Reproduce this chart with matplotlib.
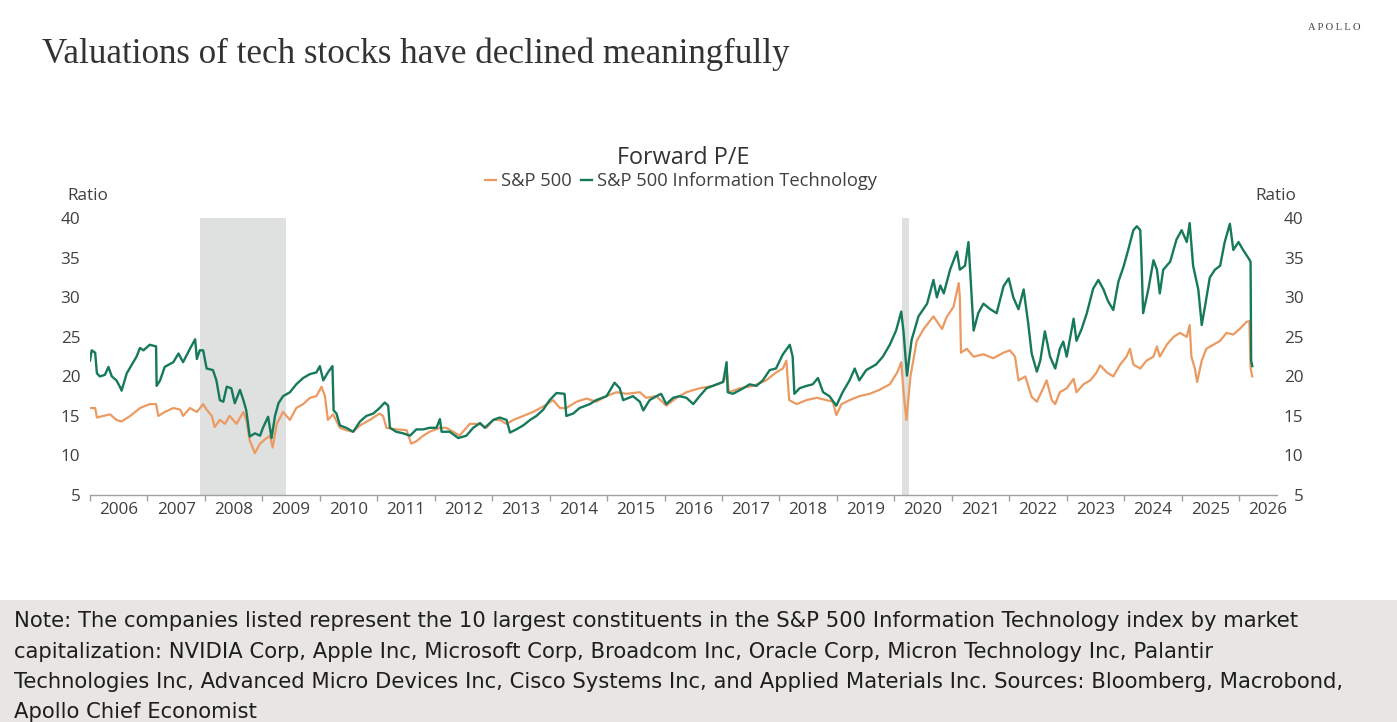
import matplotlib
matplotlib.use("Agg")
import matplotlib.pyplot as plt
from matplotlib.patches import Rectangle

# ---------------- data (decimal years, forward P/E) ----------------
it_years = [2006.00, 2006.03, 2006.09, 2006.12, 2006.17, 2006.26, 2006.32, 2006.38, 2006.46, 2006.52,
            2006.55, 2006.64, 2006.81, 2006.87, 2006.93, 2007.04, 2007.15, 2007.16, 2007.22, 2007.30,
            2007.45, 2007.54, 2007.62, 2007.74, 2007.83, 2007.86, 2007.91, 2007.97, 2008.03, 2008.14,
            2008.20, 2008.26, 2008.32, 2008.38, 2008.46, 2008.52, 2008.61, 2008.67, 2008.72, 2008.78,
            2008.87, 2008.96, 2009.01, 2009.10, 2009.16, 2009.22, 2009.28, 2009.36, 2009.48, 2009.59,
            2009.71, 2009.83, 2009.94, 2010.00, 2010.06, 2010.14, 2010.22, 2010.24, 2010.29, 2010.35,
            2010.46, 2010.58, 2010.70, 2010.81, 2010.93, 2011.04, 2011.13, 2011.19, 2011.22, 2011.33,
            2011.45, 2011.57, 2011.68, 2011.80, 2011.91, 2012.03, 2012.09, 2012.12, 2012.26, 2012.41,
            2012.55, 2012.67, 2012.79, 2012.87, 2013.02, 2013.13, 2013.25, 2013.31, 2013.42, 2013.54,
            2013.66, 2013.77, 2013.89, 2014.00, 2014.12, 2014.26, 2014.29, 2014.41, 2014.52, 2014.70,
            2014.81, 2014.99, 2015.13, 2015.22, 2015.28, 2015.45, 2015.57, 2015.63, 2015.74, 2015.86,
            2015.94, 2016.03, 2016.15, 2016.26, 2016.38, 2016.50, 2016.61, 2016.73, 2016.84, 2017.02,
            2017.08, 2017.10, 2017.19, 2017.37, 2017.48, 2017.60, 2017.71, 2017.83, 2017.94, 2018.06,
            2018.18, 2018.23, 2018.26, 2018.35, 2018.47, 2018.58, 2018.67, 2018.76, 2018.87, 2018.99,
            2019.10, 2019.22, 2019.31, 2019.39, 2019.51, 2019.68, 2019.80, 2019.92, 2020.03, 2020.12,
            2020.16, 2020.22, 2020.30, 2020.42, 2020.57, 2020.68, 2020.74, 2020.80, 2020.86, 2020.97,
            2021.09, 2021.14, 2021.23, 2021.29, 2021.33, 2021.38, 2021.46, 2021.55, 2021.67, 2021.78,
            2021.90, 2021.99, 2022.07, 2022.16, 2022.25, 2022.33, 2022.39, 2022.48, 2022.54, 2022.62,
            2022.71, 2022.80, 2022.88, 2022.94, 2023.00, 2023.12, 2023.17, 2023.26, 2023.35, 2023.46,
            2023.55, 2023.64, 2023.72, 2023.81, 2023.90, 2023.99, 2024.07, 2024.16, 2024.22, 2024.28,
            2024.30, 2024.33, 2024.42, 2024.51, 2024.57, 2024.62, 2024.68, 2024.80, 2024.91, 2025.00,
            2025.09, 2025.14, 2025.20, 2025.29, 2025.35, 2025.41, 2025.49, 2025.58, 2025.67, 2025.75,
            2025.84, 2025.90, 2025.99, 2026.07, 2026.16, 2026.20, 2026.21, 2026.23]
it_pe = [22.0, 23.3, 23.0, 20.4, 20.0, 20.2, 21.2, 20.0, 19.5, 18.7,
         18.2, 20.4, 22.5, 23.6, 23.3, 24.0, 23.8, 18.8, 19.5, 21.2,
         21.8, 22.9, 21.8, 23.5, 24.7, 22.2, 23.3, 23.3, 21.0, 20.8,
         19.5, 17.0, 16.8, 18.7, 18.5, 16.6, 18.3, 17.0, 15.7, 12.4,
         12.8, 12.5, 13.5, 14.9, 12.2, 15.0, 16.6, 17.5, 18.0, 19.0,
         19.8, 20.3, 20.5, 21.3, 19.5, 20.5, 21.3, 15.7, 15.3, 13.8,
         13.5, 13.0, 14.3, 15.0, 15.3, 16.0, 16.7, 16.3, 13.5, 13.0,
         12.8, 12.5, 13.3, 13.3, 13.5, 13.5, 14.6, 13.0, 13.0, 12.2,
         12.5, 13.5, 14.1, 13.5, 14.5, 14.8, 14.5, 12.9, 13.3, 13.8,
         14.5, 15.0, 15.8, 17.0, 17.9, 17.8, 15.0, 15.3, 16.0, 16.5,
         17.0, 17.5, 19.2, 18.5, 17.0, 17.5, 16.8, 15.7, 17.0, 17.5,
         17.8, 16.5, 17.3, 17.5, 17.3, 16.5, 17.5, 18.5, 18.8, 19.3,
         21.8, 18.0, 17.8, 18.5, 19.0, 18.8, 19.5, 20.8, 21.0, 22.8,
         24.0, 22.5, 17.8, 18.5, 18.8, 19.0, 19.8, 18.0, 17.5, 16.3,
         18.0, 19.5, 21.0, 19.5, 20.8, 21.5, 22.5, 24.0, 25.8, 28.2,
         25.6, 20.1, 24.6, 27.6, 29.2, 32.2, 30.0, 31.5, 30.5, 33.5,
         35.8, 33.5, 34.0, 37.0, 32.0, 25.8, 28.0, 29.2, 28.5, 28.0,
         31.4, 32.4, 30.0, 28.5, 31.0, 26.7, 22.9, 20.6, 22.0, 25.7,
         22.5, 21.0, 23.5, 24.4, 22.5, 27.3, 24.5, 26.0, 28.0, 31.1,
         32.2, 31.0, 29.5, 28.4, 32.0, 33.9, 36.0, 38.5, 39.0, 38.5,
         35.0, 28.0, 31.0, 34.7, 33.5, 30.5, 33.5, 34.5, 37.3, 38.5,
         37.0, 39.4, 34.0, 31.0, 26.5, 29.0, 32.5, 33.5, 34.0, 37.0,
         39.3, 36.0, 37.0, 36.0, 35.0, 34.5, 22.0, 21.3]

spx_years = [2006.00, 2006.09, 2006.12, 2006.23, 2006.35, 2006.46, 2006.55, 2006.70, 2006.87, 2007.04,
             2007.15, 2007.19, 2007.30, 2007.45, 2007.57, 2007.62, 2007.74, 2007.86, 2007.97, 2008.03,
             2008.12, 2008.17, 2008.26, 2008.35, 2008.43, 2008.55, 2008.67, 2008.72, 2008.78, 2008.87,
             2008.96, 2009.04, 2009.13, 2009.18, 2009.25, 2009.36, 2009.48, 2009.59, 2009.71, 2009.83,
             2009.94, 2010.03, 2010.09, 2010.14, 2010.23, 2010.35, 2010.46, 2010.58, 2010.70, 2010.87,
             2011.04, 2011.10, 2011.16, 2011.33, 2011.51, 2011.59, 2011.68, 2011.80, 2011.91, 2012.09,
             2012.20, 2012.32, 2012.43, 2012.61, 2012.78, 2012.90, 2013.02, 2013.13, 2013.25, 2013.37,
             2013.54, 2013.71, 2013.89, 2014.06, 2014.18, 2014.29, 2014.47, 2014.64, 2014.81, 2014.99,
             2015.16, 2015.34, 2015.57, 2015.68, 2015.86, 2016.03, 2016.21, 2016.38, 2016.61, 2016.84,
             2017.02, 2017.09, 2017.12, 2017.31, 2017.54, 2017.77, 2017.94, 2018.06, 2018.12, 2018.17,
             2018.30, 2018.47, 2018.65, 2018.82, 2018.93, 2018.99, 2019.08, 2019.22, 2019.39, 2019.57,
             2019.74, 2019.92, 2020.05, 2020.12, 2020.16, 2020.21, 2020.28, 2020.39, 2020.51, 2020.68,
             2020.83, 2020.91, 2021.03, 2021.12, 2021.14, 2021.16, 2021.26, 2021.38, 2021.55, 2021.72,
             2021.90, 2022.01, 2022.10, 2022.16, 2022.28, 2022.39, 2022.48, 2022.59, 2022.65, 2022.74,
             2022.80, 2022.88, 2023.00, 2023.12, 2023.17, 2023.29, 2023.41, 2023.52, 2023.58, 2023.70,
             2023.81, 2023.93, 2024.04, 2024.10, 2024.16, 2024.28, 2024.39, 2024.51, 2024.57, 2024.62,
             2024.74, 2024.86, 2024.97, 2025.09, 2025.14, 2025.17, 2025.23, 2025.27, 2025.35, 2025.43,
             2025.55, 2025.67, 2025.78, 2025.90, 2026.01, 2026.13, 2026.18, 2026.20, 2026.23]
spx_pe = [16.0, 16.0, 14.8, 15.0, 15.2, 14.5, 14.3, 15.0, 16.0, 16.5,
          16.5, 15.0, 15.5, 16.0, 15.8, 15.0, 16.0, 15.5, 16.5, 15.8,
          15.0, 13.6, 14.5, 14.0, 15.0, 14.0, 15.5, 14.5, 11.9, 10.3,
          11.5, 12.0, 12.5, 11.0, 14.0, 15.5, 14.5, 16.0, 16.5, 17.3,
          17.5, 18.7, 17.5, 14.5, 15.2, 13.5, 13.2, 13.0, 13.8, 14.5,
          15.3, 15.0, 13.5, 13.3, 13.2, 11.5, 11.8, 12.5, 13.0, 13.5,
          13.5, 13.0, 12.5, 14.0, 14.0, 13.5, 14.5, 14.5, 14.0, 14.5,
          15.0, 15.5, 16.2, 17.0, 16.0, 16.0, 16.8, 17.2, 16.8, 17.5,
          18.0, 17.8, 18.0, 17.3, 17.5, 16.3, 17.3, 18.0, 18.5, 18.8,
          19.3, 20.3, 18.0, 18.5, 18.8, 19.5, 20.5, 21.0, 22.0, 17.0,
          16.5, 17.0, 17.3, 17.0, 16.8, 15.1, 16.5, 17.0, 17.5, 17.8,
          18.3, 19.0, 20.5, 21.8, 18.0, 14.5, 20.0, 24.5, 26.0, 27.6,
          26.0, 27.5, 28.8, 31.8, 30.0, 23.0, 23.5, 22.5, 22.8, 22.3,
          23.0, 23.3, 22.5, 19.5, 20.0, 17.4, 16.8, 18.5, 19.5, 17.0,
          16.5, 18.0, 18.5, 19.7, 18.0, 19.0, 19.5, 20.5, 21.4, 20.5,
          20.0, 21.5, 22.5, 23.5, 21.5, 21.0, 22.0, 22.5, 23.8, 22.5,
          24.0, 25.0, 25.5, 25.0, 26.5, 22.5, 21.0, 19.3, 22.0, 23.5,
          24.0, 24.5, 25.5, 25.3, 26.0, 26.9, 27.0, 21.0, 20.0]

recessions = [(2007.92, 2009.42), (2020.13, 2020.25)]
year_ticks = list(range(2006, 2027))
y_ticks = [5, 10, 15, 20, 25, 30, 35, 40]

series_names = ["S&P 500", "S&P 500 Information Technology"]
title = "Valuations of tech stocks have declined meaningfully"
chart_title = "Forward P/E"
note_lines = [
    "Note: The companies listed represent the 10 largest constituents in the S&P 500 Information Technology index by market",
    "capitalization: NVIDIA Corp, Apple Inc, Microsoft Corp, Broadcom Inc, Oracle Corp, Micron Technology Inc, Palantir",
    "Technologies Inc, Advanced Micro Devices Inc, Cisco Systems Inc, and Applied Materials Inc. Sources: Bloomberg, Macrobond,",
    "Apollo Chief Economist",
]

# ---------------- styling ----------------
GREEN = "#16795c"
ORANGE = "#eb9a62"
LBL = "#404040"
SANS = ["Open Sans", "DejaVu Sans"]
SERIF = ["Liberation Serif", "DejaVu Serif"]
FS = 12.3

W, H = 1397, 722
fig = plt.figure(figsize=(W / 100, H / 100), dpi=100)
fig.patch.set_facecolor("white")

# note box
fig.patches.append(Rectangle((0, 0), 1, 1 - 600 / H, transform=fig.transFigure,
                             facecolor="#e8e6e3", edgecolor="none", zorder=0))
note_texts = []
for i, line in enumerate(note_lines):
    note_texts.append(fig.text(14 / W, 1 - (621 + i * 30.5) / H, line, ha="left", va="center",
                               fontsize=14, color="#1e1e1e", family=["DejaVu Sans"]))

# titles
title_txt = fig.text(42 / W, 1 - 63 / H, title, ha="left", va="baseline", fontsize=25,
                     color="#333333", family=SERIF)
fig.text(1360 / W, 1 - 27 / H, "A P O L L O", ha="right", va="center", fontsize=7.6,
         color="#444444", family=SERIF)
fig.text(683 / W, 1 - 158 / H, chart_title, ha="center", va="center", fontsize=16.8,
         color="#333333", family=SANS)

x0, x1, ytop, ybot = 90, 1277, 218.3, 495
ax = fig.add_axes([x0 / W, 1 - ybot / H, (x1 - x0) / W, (ybot - ytop) / H])
ax.set_xlim(2006.0, 2026.66)
ax.set_ylim(5, 40)

for a, b in recessions:
    ax.axvspan(a, b, color="#dfe1e0", lw=0, zorder=0)

l1, = ax.plot(spx_years, spx_pe, color=ORANGE, lw=1.6, zorder=2, label=series_names[0])
l2, = ax.plot(it_years, it_pe, color=GREEN, lw=1.7, zorder=3, label=series_names[1])

for s in ["top", "left", "right"]:
    ax.spines[s].set_visible(False)
ax.spines["bottom"].set_color("#a0a0a0")
ax.spines["bottom"].set_linewidth(1.0)

ax.set_xticks(year_ticks)
ax.set_xticklabels([])
ax.set_xticks([y + 0.5 for y in year_ticks], minor=True)
ax.set_xticklabels([str(y) for y in year_ticks], minor=True)
ax.tick_params(axis="x", which="major", length=4, width=1.0, color="#a0a0a0", direction="out")
ax.tick_params(axis="x", which="minor", length=0, pad=5, labelsize=FS, labelcolor=LBL)

ax.set_yticks(y_ticks)
ax.tick_params(axis="y", length=0, pad=7, labelsize=FS, labelcolor=LBL)

ax2 = ax.twinx()
ax2.set_ylim(5, 40)
ax2.set_yticks(y_ticks)
for s in ["top", "left", "right", "bottom"]:
    ax2.spines[s].set_visible(False)
ax2.tick_params(axis="y", length=0, pad=19, labelsize=FS, labelcolor=LBL)
for t in ax2.get_yticklabels():
    t.set_horizontalalignment("right")

for a_ in (ax, ax2):
    for t in a_.get_xticklabels(minor=True) + a_.get_yticklabels():
        t.set_family(SANS)

fig.text(88 / W, 1 - 196 / H, "Ratio", ha="center", va="center", fontsize=FS,
         color=LBL, family=SANS)
fig.text(1276 / W, 1 - 196 / H, "Ratio", ha="center", va="center", fontsize=FS,
         color=LBL, family=SANS)

leg = fig.legend(handles=[l1, l2], loc="center", bbox_to_anchor=(681 / W, 1 - 181 / H),
                 ncol=2, frameon=False, handlelength=0.6, handletextpad=0.3,
                 columnspacing=0.5, prop={"family": SANS, "size": 13.2})
for t in leg.get_texts():
    t.set_color(LBL)

# fit widths of the long texts to the reference footprint
fig.canvas.draw()
r = fig.canvas.get_renderer()
w_note = note_texts[0].get_window_extent(r).width
scale = 1289 / w_note
for t in note_texts:
    t.set_fontsize(t.get_fontsize() * scale)
w_title = title_txt.get_window_extent(r).width
title_txt.set_fontsize(title_txt.get_fontsize() * 750 / w_title)

fig.savefig("out.png", dpi=100, facecolor="white")
